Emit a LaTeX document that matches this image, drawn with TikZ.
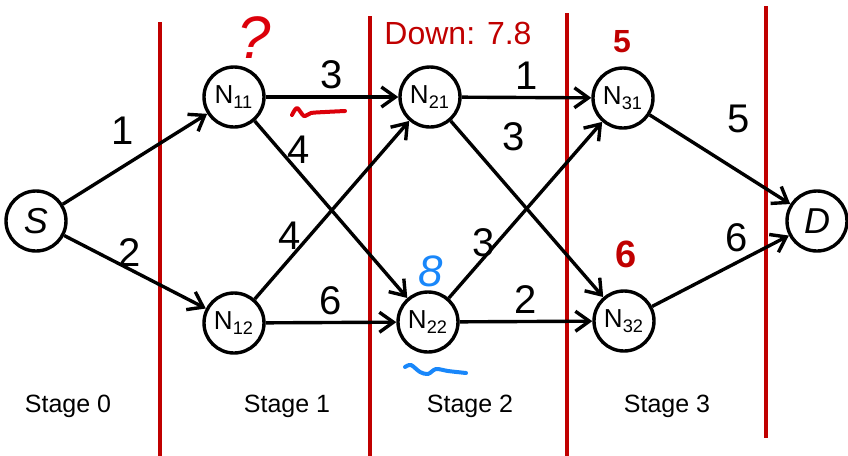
\documentclass[tikz,border=0pt]{standalone}
\usepackage{fontspec}
\setmainfont{Liberation Sans}
\usetikzlibrary{arrows.meta}
\definecolor{StageRed}{RGB}{192,0,0}
\definecolor{InkRed}{RGB}{220,0,10}
\definecolor{InkBlue}{RGB}{25,135,250}
\tikzset{
  state/.style={circle,draw,line width=1.7pt,minimum size=30pt,inner sep=0pt,
    font=\fontsize{13}{15}\selectfont},
  term/.style={state,font=\fontsize{18}{20}\selectfont\itshape},
  weight/.style={font=\fontsize{20}{22}\selectfont,inner sep=2pt},
  stagelabel/.style={font=\fontsize{12.5}{14}\selectfont},
  divider/.style={StageRed,line width=2pt},
  arrow/.style={-{Straight Barb[length=7pt,width=10pt]},line width=1.7pt},
  ink/.style={line width=2pt,line cap=round,line join=round}
}

\begin{document}
\begin{tikzpicture}[x=0.5pt,y=-0.5pt]
  \useasboundingbox (0,0) rectangle (848,456);
  % stage dividers
  \draw[divider] (160,22) -- (160,456);
  \draw[divider] (370,16) -- (370,456);
  \draw[divider] (567,13) -- (567,456);
  \draw[divider] (766,6) -- (766,438);
  % nodes
  \node[term] (s) at (36,221) {S};
  \node[state] (n11) at (234,97) {N\textsubscript{11}};
  \node[state] (n12) at (234,323) {N\textsubscript{12}};
  \node[state] (n21) at (430,97) {N\textsubscript{21}};
  \node[state] (n22) at (428,322) {N\textsubscript{22}};
  \node[state] (n31) at (623,98) {N\textsubscript{31}};
  \node[state] (n32) at (624,321) {N\textsubscript{32}};
  \node[term] (d) at (817,221) {D};
  % edges with costs
  \draw[arrow] (s) -- node[weight,pos=0.5,above left,yshift=4.5pt,xshift=2pt] {1} (n11);
  \draw[arrow] (s) -- node[weight,pos=0.5,above,xshift=-2.5pt] {2} (n12);
  \draw[arrow] (n11) -- node[weight,above,yshift=1pt] {3} (n21);
  \draw[arrow] (n11) -- node[weight,pos=0.23,right,xshift=-4pt,yshift=6pt] {4} (n22);
  \draw[arrow] (n12) -- node[weight,pos=0.38,left,xshift=-3.5pt,yshift=-2pt] {4} (n21);
  \draw[arrow] (n12) -- node[weight,above,yshift=1pt] {6} (n22);
  \draw[arrow] (n21) -- node[weight,above,yshift=1pt] {1} (n31);
  \draw[arrow] (n21) -- node[weight,pos=0.25,above right,xshift=4pt,yshift=4pt] {3} (n32);
  \draw[arrow] (n22) -- node[weight,pos=0.35,left,xshift=-1pt,yshift=-3pt] {3} (n31);
  \draw[arrow] (n22) -- node[weight,above,yshift=1pt] {2} (n32);
  \draw[arrow] (n31) -- node[weight,pos=0.51,above right,yshift=11pt] {5} (d);
  \draw[arrow] (n32) -- node[weight,pos=0.6,above,xshift=1pt,yshift=3pt] {6} (d);
  % stage names
  \node[stagelabel] (st0) at (68,406) {Stage 0};
  \node[stagelabel] (st1) at (287,406) {Stage 1};
  \node[stagelabel] (st2) at (470,406) {Stage 2};
  \node[stagelabel] (st3) at (667,406) {Stage 3};
  % values written on top
  \node[StageRed,font=\fontsize{16}{18}\selectfont] (down) at (458,33) {Down: 7.8};
  \node[StageRed,font=\fontsize{16}{18}\selectfont\bfseries] (v31) at (622,42) {5};
  \node[StageRed,font=\fontsize{19}{21}\selectfont\bfseries] (v32) at (626,254) {6};
  \node[InkRed,font=\fontsize{30}{32}\selectfont\itshape] (ask) at (254,38) {?};
  \node[InkBlue,font=\fontsize{22}{24}\selectfont\itshape] (v22) at (431,271) {8};
  \draw[ink,InkRed] plot[smooth] coordinates
    {(292,115) (297,108) (304,116) (311,113) (325,112) (345,111)};
  \draw[ink,InkBlue] plot[smooth] coordinates
    {(405,367) (411,365) (420,372) (428,374) (436,369) (448,371) (466,373)};
\end{tikzpicture}
\end{document}
